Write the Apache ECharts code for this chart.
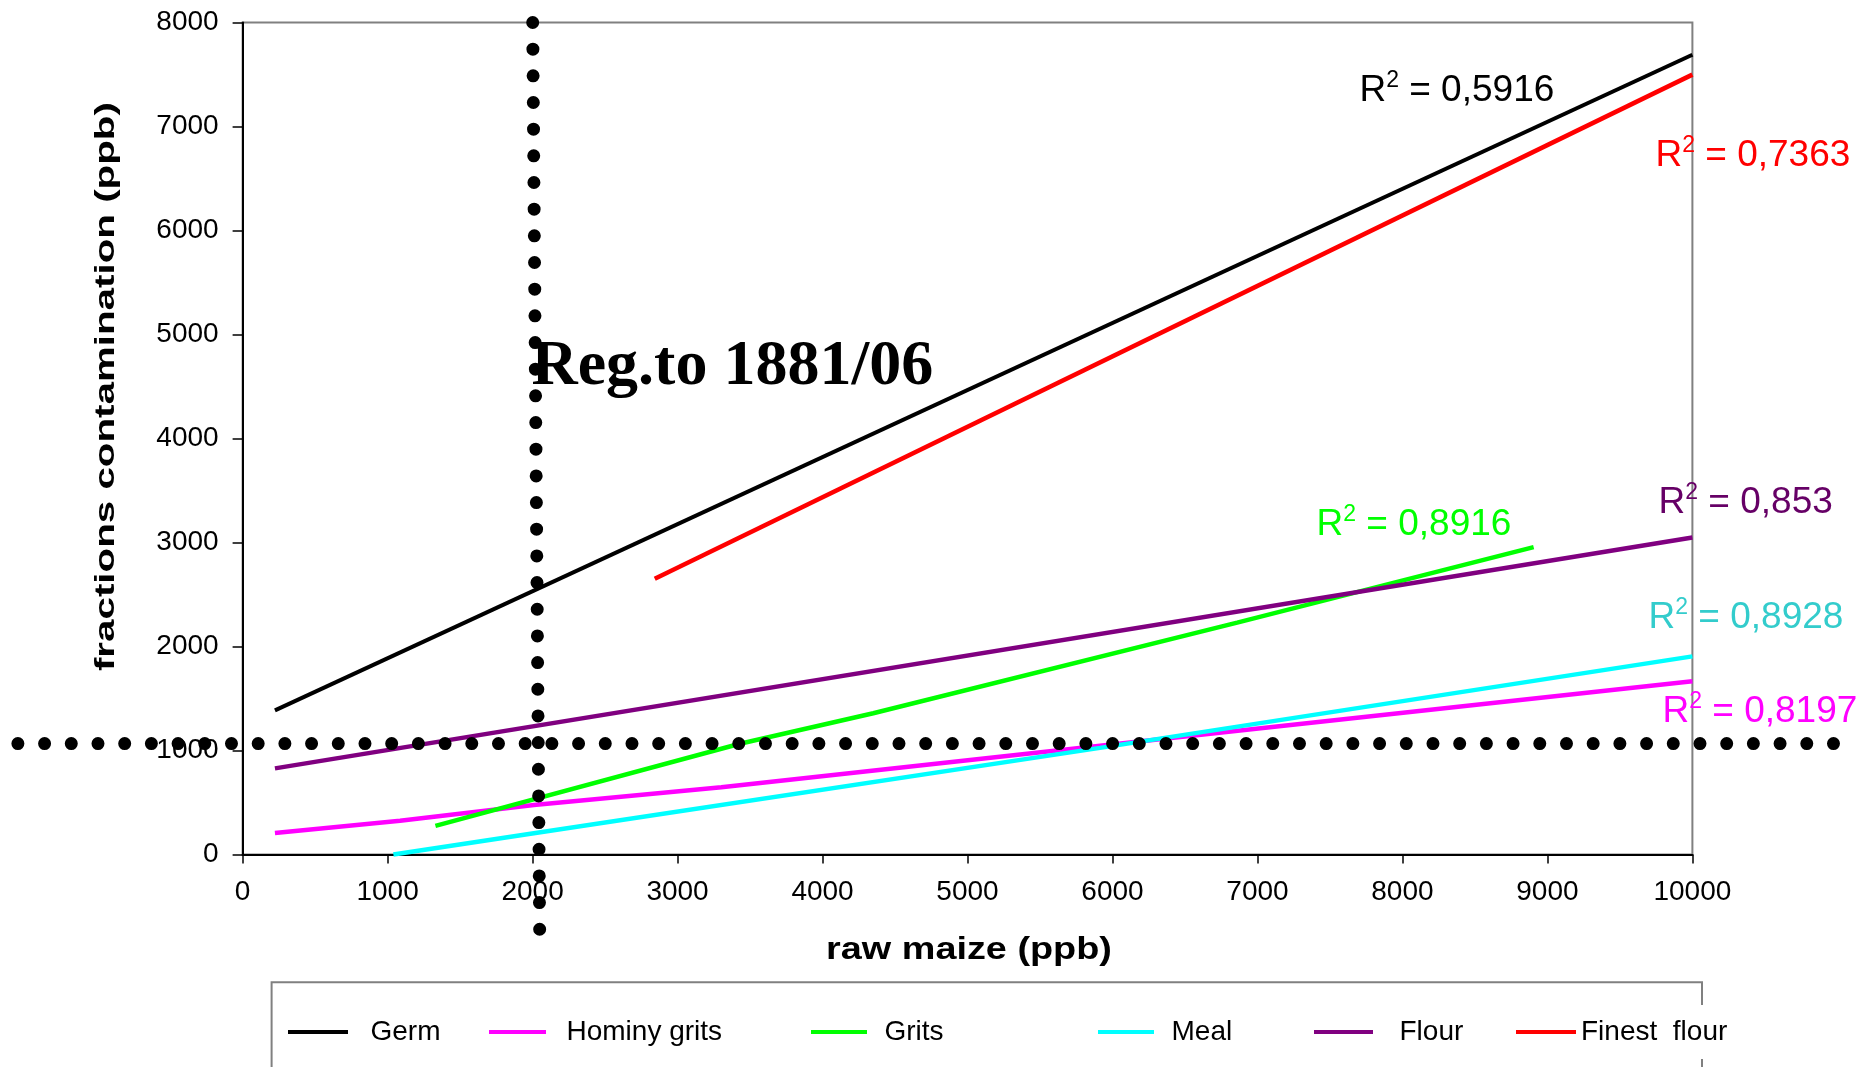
<!DOCTYPE html>
<html><head><meta charset="utf-8">
<script src="https://cdn.jsdelivr.net/npm/echarts@6/dist/echarts.min.js"></script>
<style>html,body{margin:0;padding:0;background:#fff}#c{width:1874px;height:1067px}</style>
</head><body><div id="c"></div>
<script>
// ---- data ----
const seriesNames = ['Germ', 'Hominy grits', 'Grits', 'Meal', 'Flour', 'Finest  flour'];
const germ        = [[223, 1386], [10000, 7690]];
const hominyGrits = [[223, 206], [1086, 325], [2009, 476], [3302, 646], [5914, 1046], [10000, 1666]];
const grits       = [[1330, 275], [3430, 1065], [4350, 1358], [6860, 2229], [8905, 2955]];
const meal        = [[1040, 0], [2009, 205], [5914, 1025], [10000, 1905]];
const flour       = [[223, 828], [10000, 3048]];
const finestFlour = [[2843, 2652], [10000, 7499]];
const r2Values    = ['0,5916', '0,8197', '0,8916', '0,8928', '0,853', '0,7363'];
const regVertical   = [[2001, 8000], [2049, -719]];
const regHorizontal = [[-1550, 1067], [10974, 1067]];
const regText = 'Reg.to 1881/06';
const xAxisName = 'raw maize (ppb)';
const yAxisName = 'fractions contamination (ppb)';

// ---- styling ----
const FONT = '"Liberation Sans", Arial, sans-serif';
const lineColors  = ['#000000', '#FF00FF', '#00FF00', '#00FFFF', '#800080', '#FF0000'];
const labelColors = ['#000000', '#FF00FF', '#00FF00', '#33CCCC', '#660066', '#FF0000'];
const r2Anchors = [[7700, 7341], [9790, 1370], [7404, 3168], [9694, 2274], [9763, 3380], [9742, 6716]];
const legendLayout = [ // [iconLeft, iconWidth, textPadLeft]
  [288, 60, 17.5], [489, 57, 15.5], [811, 56, 12.5], [1098, 56, 12.5], [1314, 59, 21.5], [1516, 60, 0]
];

const chart = echarts.init(document.getElementById('c'), null, {renderer: 'canvas'});

function r2Mark(i) {
  return {
    symbol: 'circle', symbolSize: 1, silent: true,
    itemStyle: {color: 'rgba(0,0,0,0)'},
    label: {
      show: true, position: 'right', distance: 0,
      formatter: '{m|R}{s|2}{m| = ' + r2Values[i] + '}',
      rich: {
        m: {fontSize: 37, lineHeight: 44, color: labelColors[i], fontFamily: FONT},
        s: {fontSize: 23, lineHeight: 6, verticalAlign: 'top', color: labelColors[i], fontFamily: FONT}
      }
    },
    data: [{coord: r2Anchors[i]}]
  };
}

const dataSets = [germ, hominyGrits, grits, meal, flour, finestFlour];
const series = dataSets.map((d, i) => ({
  name: seriesNames[i], type: 'line', data: d, symbol: 'none', showSymbol: false,
  lineStyle: {color: lineColors[i], width: i === 0 ? 4 : 4.5},
  itemStyle: {color: lineColors[i]},
  z: 2, clip: false, markPoint: r2Mark(i)
}));

series.push({
  type: 'line', data: regVertical, symbol: 'none', silent: true, clip: false, z: 5,
  lineStyle: {color: '#000', width: 13, type: [0, 26.67], cap: 'round'},
  markPoint: {
    symbol: 'circle', symbolSize: 1, silent: true, itemStyle: {color: 'rgba(0,0,0,0)'},
    label: {show: true, position: 'right', distance: 0, formatter: regText,
      fontFamily: '"Liberation Serif", "Times New Roman", serif', fontWeight: 'bold',
      fontSize: 64, lineHeight: 64, color: '#000'},
    data: [{coord: [1989, 4683]}]
  }
});
// horizontal guide drawn on a full-width helper grid using the same data units
series.push({
  type: 'line', data: regHorizontal, xAxisIndex: 1, yAxisIndex: 1,
  symbol: 'none', silent: true, clip: false, z: 5,
  lineStyle: {color: '#000', width: 13, type: [0, 26.7], cap: 'round'}
});

const legends = seriesNames.map((n, i) => {
  const [left, w, pad] = legendLayout[i];
  const last = i === seriesNames.length - 1;
  const h = last ? 54 : 30;
  return {
    data: [n], left: left, top: 1032 - h / 2, orient: 'horizontal', padding: 0,
    icon: 'rect', itemWidth: w, itemHeight: 4, selectedMode: false,
    textStyle: {fontFamily: FONT, fontSize: 28, color: '#000', lineHeight: 30,
      padding: last ? [12, 0, 12, pad] : [0, 0, 0, pad],
      backgroundColor: last ? '#fff' : 'transparent'}
  };
});

const gridLeft = 242.6, gridRight = 181.6, W = 1874;
const plotW = W - gridLeft - gridRight;
const helperMin = -gridLeft / plotW * 10000;
const helperMax = (W - gridLeft) / plotW * 10000;

chart.setOption({
  animation: false,
  backgroundColor: '#fff',
  grid: [
    {left: gridLeft, right: gridRight, top: 22.5, bottom: 212.5, show: true,
      borderColor: '#808080', borderWidth: 2, backgroundColor: 'transparent'},
    {left: 0, right: 0, top: 22.5, bottom: 212.5, show: false}
  ],
  xAxis: [{
    type: 'value', min: 0, max: 10000, interval: 1000,
    axisLine: {show: true, onZero: false, lineStyle: {color: '#000', width: 2}},
    axisTick: {show: true, length: 9, lineStyle: {color: '#000', width: 1.5}},
    axisLabel: {fontFamily: FONT, fontSize: 28, color: '#000', margin: 24, formatter: v => String(v)},
    splitLine: {show: false}
  }, {
    type: 'value', gridIndex: 1, min: helperMin, max: helperMax, show: false
  }],
  yAxis: [{
    type: 'value', min: 0, max: 8000, interval: 1000,
    axisLine: {show: true, onZero: false, lineStyle: {color: '#000', width: 2}},
    axisTick: {show: true, length: 10, lineStyle: {color: '#000', width: 1.5}},
    axisLabel: {fontFamily: FONT, fontSize: 28, color: '#000', margin: 24, formatter: v => String(v)},
    splitLine: {show: false}
  }, {
    type: 'value', gridIndex: 1, min: 0, max: 8000, show: false
  }],
  legend: legends,
  graphic: [
    {type: 'rect', z: 0, silent: true, shape: {x: 271.6, y: 982.3, width: 1430.4, height: 150},
      style: {fill: 'none', stroke: '#808080', lineWidth: 2}},
    {type: 'text', z: 10, x: 106.4, y: 386.6, rotation: Math.PI / 2, scaleX: 1.44,
      style: {text: yAxisName, font: 'bold 28px ' + FONT, align: 'center', verticalAlign: 'middle', fill: '#000'}},
    {type: 'text', z: 10, x: 969, y: 950.6, scaleX: 1.22,
      style: {text: xAxisName, font: 'bold 31px ' + FONT, align: 'center', verticalAlign: 'middle', fill: '#000'}}
  ],
  series: series
});
</script>
</body></html>
